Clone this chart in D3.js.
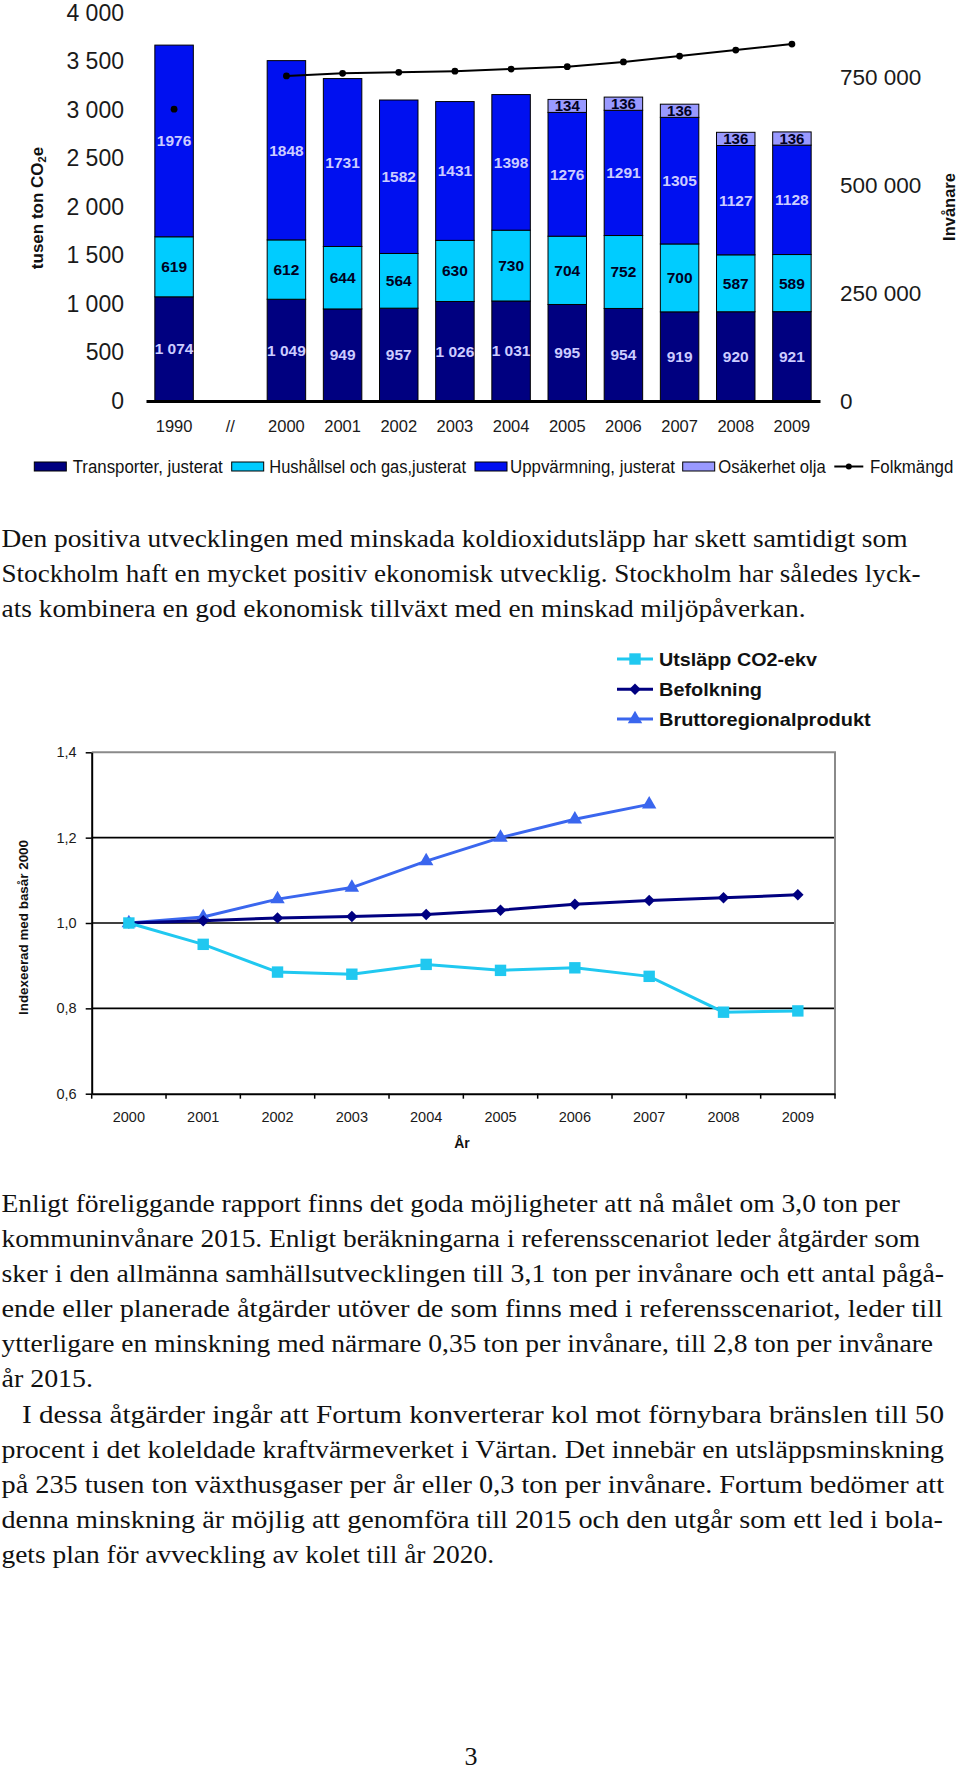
<!DOCTYPE html>
<html><head><meta charset="utf-8">
<script src="https://cdn.jsdelivr.net/npm/d3@7"></script>
<style>body{margin:0;background:#fff}svg{display:block}</style>
</head><body>
<svg id="c" width="960" height="1771"></svg>
<script>
// ---------- DATA: stacked bar chart ----------
const categories = ["1990","//","2000","2001","2002","2003","2004","2005","2006","2007","2008","2009"];
const years = ["1990","2000","2001","2002","2003","2004","2005","2006","2007","2008","2009"];
const transporter = [1074,1049,949,957,1026,1031,995,954,919,920,921];
const hushallsel = [619,612,644,564,630,730,704,752,700,587,589];
const uppvarmning = [1976,1848,1731,1582,1431,1398,1276,1291,1305,1127,1128];
const osakerhet = [0,0,0,0,0,0,134,136,136,136,136];
const folkmangd = [677000,754000,760000,762500,765000,770000,775500,786500,800000,814000,828000];
const leftTicks = [0,500,1000,1500,2000,2500,3000,3500,4000];
const rightTicks = [0,250000,500000,750000];
const seriesNames = ["Transporter, justerat","Hushållsel och gas,justerat","Uppvärmning, justerat","Osäkerhet olja","Folkmängd"];

// ---------- DATA: index line chart ----------
const idxYears = ["2000","2001","2002","2003","2004","2005","2006","2007","2008","2009"];
const utslapp = [1.000,0.950,0.885,0.880,0.903,0.889,0.895,0.875,0.791,0.794];
const befolkning = [1.000,1.005,1.012,1.015,1.020,1.030,1.044,1.053,1.059,1.066];
const brutto = [1.000,1.014,1.056,1.083,1.145,1.200,1.243,1.278,null,null];
const idxTicks = [0.6,0.8,1.0,1.2,1.4];
const idxNames = ["Utsläpp CO2-ekv","Befolkning","Bruttoregionalprodukt"];

// ---------- TEXT ----------
const introLines = [
 "Den positiva utvecklingen med minskada koldioxidutsläpp har skett samtidigt som",
 "Stockholm haft en mycket positiv ekonomisk utvecklig. Stockholm har således lyck-",
 "ats kombinera en god ekonomisk tillväxt med en minskad miljöpåverkan."];
const bodyLines = [
 "Enligt föreliggande rapport finns det goda möjligheter att nå målet om 3,0 ton per",
 "kommuninvånare 2015. Enligt beräkningarna i referensscenariot leder åtgärder som",
 "sker i den allmänna samhällsutvecklingen till 3,1 ton per invånare och ett antal pågå-",
 "ende eller planerade åtgärder utöver de som finns med i referensscenariot, leder till",
 "ytterligare en minskning med närmare 0,35 ton per invånare, till 2,8 ton per invånare",
 "år 2015.",
 "I dessa åtgärder ingår att Fortum konverterar kol mot förnybara bränslen till 50",
 "procent i det koleldade kraftvärmeverket i Värtan. Det innebär en utsläppsminskning",
 "på 235 tusen ton växthusgaser per år eller 0,3 ton per invånare. Fortum bedömer att",
 "denna minskning är möjlig att genomföra till 2015 och den utgår som ett led i bola-",
 "gets plan för avveckling av kolet till år 2020."];
const pageNumber = "3";

// ---------- LAYOUT ----------
const svg = d3.select("#c");
const SANS = "'Liberation Sans', Arial, sans-serif";
const SERIF = "'Liberation Serif', 'Times New Roman', serif";
const colors = ["#000080","#00ccff","#0010f0","#9999ff"];

// ===== Chart 1 =====
const g1 = svg.append("g").style("font-family", SANS);
const x1 = d3.scaleBand().domain(categories).range([146, 820]).paddingInner(0.315).paddingOuter(0.1575);
const yL = d3.scaleLinear().domain([0, 4000]).range([401, 13]);
const yR = d3.scaleLinear().domain([0, 900000]).range([401, 13]);

const table = years.map((y, i) => ({year: y, t: transporter[i], h: hushallsel[i], u: uppvarmning[i], o: osakerhet[i]}));
const keys = ["t","h","u","o"];
const stacked = d3.stack().keys(keys)(table);

stacked.forEach((layer, li) => {
  g1.append("g").selectAll("rect").data(layer.filter(d => d[1] > d[0])).join("rect")
    .attr("x", d => x1(d.data.year))
    .attr("width", x1.bandwidth())
    .attr("y", d => yL(d[1]))
    .attr("height", d => yL(d[0]) - yL(d[1]))
    .attr("fill", colors[li]).attr("stroke", "#000").attr("stroke-width", 1);
});
const fmtSpace = v => v >= 1000 ? d3.format(",")(v).replace(/,/g, " ") : String(v);
const labelColor = ["#ccccff","#000022","#ccccff","#000022"];
stacked.forEach((layer, li) => {
  g1.append("g").selectAll("text").data(layer.filter(d => d[1] > d[0])).join("text")
    .attr("x", d => x1(d.data.year) + x1.bandwidth() / 2)
    .attr("y", d => (yL(d[0]) + yL(d[1])) / 2 + 5.5)
    .attr("text-anchor", "middle")
    .attr("font-size", li === 3 ? 15 : 15.5).attr("font-weight", "bold")
    .attr("fill", labelColor[li])
    .text(d => li === 0 ? fmtSpace(d[1] - d[0]) : String(d[1] - d[0]));
});

// population
const popPts = years.map((y, i) => ({year: y, v: folkmangd[i]}));
const lineGen = d3.line().x(d => x1(d.year) + x1.bandwidth() / 2).y(d => yR(d.v));
g1.append("path").datum(popPts.slice(1)).attr("d", lineGen)
  .attr("fill", "none").attr("stroke", "#000").attr("stroke-width", 2);
g1.append("g").selectAll("circle").data(popPts).join("circle")
  .attr("cx", d => x1(d.year) + x1.bandwidth() / 2).attr("cy", d => yR(d.v))
  .attr("r", 3.4).attr("fill", "#000");

// left axis
const axL = g1.append("g").attr("transform", "translate(124,0)")
  .call(d3.axisLeft(yL).tickValues(leftTicks).tickSize(0).tickPadding(0).tickFormat(fmtSpace));
axL.select(".domain").remove();
axL.selectAll("text").attr("font-size", 23).attr("fill", "#1a1a1a").attr("font-family", SANS);

// right axis
const axR = g1.append("g").attr("transform", "translate(840,0)")
  .call(d3.axisRight(yR).tickValues(rightTicks).tickSize(0).tickPadding(0).tickFormat(fmtSpace));
axR.select(".domain").remove();
axR.selectAll("text").attr("font-size", 22.5).attr("fill", "#1a1a1a").attr("font-family", SANS);

// bottom axis
const axB = g1.append("g").attr("transform", "translate(0,401)")
  .call(d3.axisBottom(x1).tickSize(0).tickSizeOuter(0));
axB.select(".domain").attr("stroke", "#000").attr("stroke-width", 3);
axB.selectAll("text").attr("y", 31).attr("dy", 0).attr("font-size", 16.5).attr("fill", "#1a1a1a").attr("font-family", SANS);

// axis titles
const tl = g1.append("text").attr("transform", "translate(43,208) rotate(-90)")
  .attr("text-anchor", "middle").attr("font-size", 17).attr("font-weight", "bold").attr("fill", "#111");
tl.append("tspan").text("tusen ton CO");
tl.append("tspan").attr("font-size", 11).attr("dy", 3).text("2");
tl.append("tspan").attr("dy", -3).text("e");
g1.append("text").attr("transform", "translate(955,207) rotate(-90)")
  .attr("text-anchor", "middle").attr("font-size", 16.5).attr("font-weight", "bold").attr("fill", "#111").text("Invånare");

// legend
const leg = [
  {sx: 34.3, tx: 72.7, w: 150},
  {sx: 231.7, tx: 269.3, w: 196.7},
  {sx: 475, tx: 510, w: 165},
  {sx: 682.7, tx: 718.3, w: 107.4},
  {sx: 834.3, tx: 870, w: 83.3}];
leg.forEach((L, i) => {
  if (i < 4) {
    g1.append("rect").attr("x", L.sx).attr("y", 462).attr("width", 32).attr("height", 9)
      .attr("fill", colors[i]).attr("stroke", "#000").attr("stroke-width", 1);
  } else {
    g1.append("line").attr("x1", L.sx).attr("x2", L.sx + 29).attr("y1", 466.5).attr("y2", 466.5)
      .attr("stroke", "#000").attr("stroke-width", 2);
    g1.append("circle").attr("cx", L.sx + 14.5).attr("cy", 466.5).attr("r", 3).attr("fill", "#000");
  }
  g1.append("text").attr("x", L.tx).attr("y", 473).attr("font-size", 17.5).attr("fill", "#111")
    .attr("textLength", L.w).attr("lengthAdjust", "spacingAndGlyphs").text(seriesNames[i]);
});

// ===== Intro text =====
const gt = svg.append("g").style("font-family", SERIF).attr("fill", "#111");
const introW = [906, 919, 804];
introLines.forEach((s, i) => {
  gt.append("text").attr("x", 1.5).attr("y", 546.7 + 35 * i).attr("font-size", 26)
    .attr("textLength", introW[i]).attr("lengthAdjust", "spacingAndGlyphs").text(s);
});

// ===== Chart 2 =====
const g2 = svg.append("g").style("font-family", SANS);
const x2 = d3.scaleBand().domain(idxYears).range([91.7, 835]).padding(0);
const y2 = d3.scaleLinear().domain([0.6, 1.4]).range([1093.7, 752.3]);
const fmtComma = d => d3.format(".1f")(d).replace(".", ",");

// grid
g2.append("g").selectAll("line").data(idxTicks.filter(t => t > 0.6 && t < 1.4)).join("line")
  .attr("x1", 91.7).attr("x2", 835).attr("y1", d => y2(d)).attr("y2", d => y2(d))
  .attr("stroke", "#000").attr("stroke-width", 1.6);
g2.append("path").attr("d", `M91.7,${y2(1.4)}H835V${y2(0.6)}`).attr("fill", "none")
  .attr("stroke", "#8a8a8a").attr("stroke-width", 2);

// y axis
const ay2 = g2.append("g").attr("transform", "translate(91.7,0)")
  .call(d3.axisLeft(y2).tickValues(idxTicks).tickSize(6).tickPadding(9).tickFormat(fmtComma).tickSizeOuter(0));
ay2.select(".domain").attr("stroke", "#000").attr("stroke-width", 2);
ay2.selectAll(".tick line").attr("stroke", "#000").attr("stroke-width", 1.5);
ay2.selectAll("text").attr("font-size", 14.5).attr("fill", "#1a1a1a").attr("font-family", SANS);

// x axis
const ax2 = g2.append("g").attr("transform", `translate(0,${y2(0.6)})`)
  .call(d3.axisBottom(x2).tickSize(0).tickSizeOuter(0));
ax2.select(".domain").attr("stroke", "#000").attr("stroke-width", 2);
ax2.selectAll("text").attr("y", 28.5).attr("dy", 0).attr("font-size", 14.5).attr("fill", "#1a1a1a").attr("font-family", SANS);
const bounds = idxYears.map(d => x2(d)).concat([x2.range()[1]]);
g2.append("g").selectAll("line").data(bounds).join("line")
  .attr("x1", d => d).attr("x2", d => d).attr("y1", y2(0.6)).attr("y2", y2(0.6) + 5)
  .attr("stroke", "#000").attr("stroke-width", 1.5);

g2.append("text").attr("x", 462).attr("y", 1148).attr("text-anchor", "middle")
  .attr("font-size", 14).attr("font-weight", "bold").attr("fill", "#111").text("År");
g2.append("text").attr("transform", "translate(28,927.5) rotate(-90)").attr("text-anchor", "middle")
  .attr("font-size", 13.5).attr("font-weight", "bold").attr("fill", "#111")
  .attr("textLength", 175).attr("lengthAdjust", "spacingAndGlyphs").text("Indexeerad med basår 2000");

const lineColors = ["#20c8f0","#000080","#3a66ee"];
const symbols = [
  {type: d3.symbolSquare, size: 130, rot: 0},
  {type: d3.symbolSquare, size: 66, rot: 45},
  {type: d3.symbolTriangle, size: 90, rot: 0}];
const idxSeries = [utslapp, befolkning, brutto];
const cx2 = d => x2(d) + x2.bandwidth() / 2;

[2, 1, 0].forEach(si => {
  const pts = idxYears.map((y, i) => ({year: y, v: idxSeries[si][i]})).filter(d => d.v != null);
  g2.append("path").datum(pts)
    .attr("d", d3.line().x(d => cx2(d.year)).y(d => y2(d.v)))
    .attr("fill", "none").attr("stroke", lineColors[si]).attr("stroke-width", 3);
  g2.append("g").selectAll("path").data(pts).join("path")
    .attr("d", d3.symbol().type(symbols[si].type).size(symbols[si].size))
    .attr("transform", d => `translate(${cx2(d.year)},${y2(d.v)}) rotate(${symbols[si].rot})`)
    .attr("fill", lineColors[si]);
});

// legend chart 2
const legY = [659, 689.3, 719];
const legW = [158, 103, 211.7];
idxNames.forEach((n, i) => {
  g2.append("line").attr("x1", 617).attr("x2", 653).attr("y1", legY[i]).attr("y2", legY[i])
    .attr("stroke", lineColors[i]).attr("stroke-width", 3);
  g2.append("path").attr("d", d3.symbol().type(symbols[i].type).size(symbols[i].size))
    .attr("transform", `translate(635,${legY[i]}) rotate(${symbols[i].rot})`).attr("fill", lineColors[i]);
  g2.append("text").attr("x", 659).attr("y", legY[i] + 7).attr("font-size", 19).attr("font-weight", "bold")
    .attr("fill", "#111").attr("textLength", legW[i]).attr("lengthAdjust", "spacingAndGlyphs").text(n);
});

// ===== Body text =====
const bodyX = [1.5,1.5,1.5,1.5,1.5,1.5,22,1.5,1.5,1.5,1.5];
const bodyEnd = [900, 920, 944, 943, 933, 93, 944, 944, 944, 943, 494];
bodyLines.forEach((s, i) => {
  const y = i < 6 ? 1212 + 35 * i : 1423 + 35 * (i - 6);
  gt.append("text").attr("x", bodyX[i]).attr("y", y).attr("font-size", 26)
    .attr("textLength", bodyEnd[i] - bodyX[i]).attr("lengthAdjust", "spacingAndGlyphs").text(s);
});
gt.append("text").attr("x", 471).attr("y", 1765).attr("text-anchor", "middle").attr("font-size", 26).text(pageNumber);
</script>
</body></html>
